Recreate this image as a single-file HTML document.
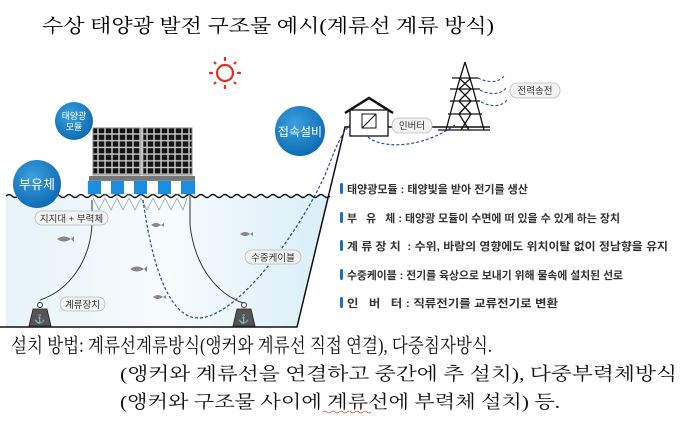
<!DOCTYPE html>
<html><head><meta charset="utf-8"><style>
html,body{margin:0;padding:0;background:#fff;width:680px;height:421px;overflow:hidden}
svg{display:block}
.s{font-family:"Liberation Serif","Noto Serif CJK SC",serif}
.g{font-family:"Liberation Sans","Noto Sans CJK KR",sans-serif}
</style></head><body>
<svg width="680" height="421" viewBox="0 0 680 421" xmlns="http://www.w3.org/2000/svg">
<defs>
<linearGradient id="w" x1="0" x2="1" y1="0" y2="0">
<stop offset="0" stop-color="#e6f3f9"/><stop offset="0.5" stop-color="#f7fbfd"/><stop offset="1" stop-color="#d8eef7"/>
</linearGradient>
<radialGradient id="b" cx="0.4" cy="0.35" r="0.7"><stop offset="0" stop-color="#3aa0e0"/><stop offset="1" stop-color="#0c68b0"/></radialGradient>
<pattern id="cell" width="7" height="6.7" patternUnits="userSpaceOnUse"><rect width="7" height="6.7" fill="#ccc"/><rect x="0.7" y="0.7" width="5.6" height="5.3" fill="#151515"/></pattern>
</defs>
<text class="s" x="42" y="32" font-size="19" textLength="452" lengthAdjust="spacingAndGlyphs">수상 태양광 발전 구조물 예시(계류선 계류 방식)</text>
<g stroke="#e03020" stroke-width="2.2" fill="none">
<circle cx="225" cy="73" r="8"/>
<line x1="225" y1="57" x2="225" y2="61"/><line x1="225" y1="85" x2="225" y2="89"/>
<line x1="209" y1="73" x2="213" y2="73"/><line x1="237" y1="73" x2="241" y2="73"/>
<line x1="214" y1="62" x2="216" y2="64"/><line x1="234" y1="82" x2="236" y2="84"/>
<line x1="236" y1="62" x2="234" y2="64"/><line x1="214" y1="84" x2="216" y2="82"/>
</g>
<polygon points="6,196 330,196 297,327 6,327" fill="url(#w)"/>
<path d="M6,196 q3,-3 6,0 t6,0 t6,0 t6,0 t6,0 t6,0 t6,0 t6,0 t6,0 t6,0 t6,0 t6,0 t6,0 t6,0 t6,0 t6,0 t6,0 t6,0 t6,0 t6,0 t6,0 t6,0 t6,0 t6,0 t6,0 t6,0 t6,0 t6,0 t6,0 t6,0 t6,0 t6,0 t6,0 t6,0 t6,0 t6,0 t6,0 t6,0 t6,0 t6,0 t6,0 t6,0 t6,0 t6,0 t6,0 t6,0 t6,0 t6,0 t6,0 t6,0 t6,0 t6,0 t6,0 t6,0" stroke="#111" stroke-width="1.3" fill="none"/>
<path d="M0,327 L297,327 L345,127 L490,127" stroke="#111" stroke-width="1.5" fill="none"/>
<rect x="93" y="128" width="48" height="47" fill="url(#cell)" stroke="#888"/>
<rect x="143" y="128" width="49" height="47" fill="url(#cell)" stroke="#888"/>
<rect x="89" y="176" width="106" height="5" fill="#777"/>
<rect x="88" y="181" width="107" height="13" fill="#fff" stroke="#aaa" stroke-width="0.5"/>
<g fill="#1a8ee0"><rect x="88" y="181" width="13" height="13"/><rect x="111" y="181" width="13" height="13"/><rect x="134" y="181" width="13" height="13"/><rect x="158" y="181" width="13" height="13"/><rect x="181" y="181" width="14" height="13"/></g>
<path d="M93,198 l6,12 l6,-12 l6,12 l6,-12 l6,12 l6,-12 l6,12 l6,-12 l6,12 l6,-12 l6,12 l6,-12 l6,12 l6,-12 l6,12 l4,-12" stroke="#8aa" stroke-width="0.8" fill="none"/>
<path d="M92,200 L92,225 C90,260 70,290 40,300" stroke="#333" stroke-width="1" fill="none"/>
<path d="M190,196 L190,225 C195,270 220,295 243,303" stroke="#333" stroke-width="1" fill="none"/>
<path d="M143,200 C150,250 165,320 200,318 C240,315 300,230 325,175 C335,150 340,135 350,125" stroke="#2a4e9e" stroke-width="1.2" stroke-dasharray="3,2" fill="none"/>
<path d="M368,137 C380,148 420,150 455,125" stroke="#2a4e9e" stroke-width="1.2" stroke-dasharray="3,2" fill="none"/>
<g fill="#555" stroke="#222" stroke-width="0.8"><path d="M33,309 h14 l4,17 h-22z"/><path d="M237,309 h14 l4,17 h-22z"/></g>
<circle cx="40" cy="305" r="2.5" fill="none" stroke="#333"/><circle cx="244" cy="305" r="2.5" fill="none" stroke="#333"/>
<text x="40" y="322" font-size="9" fill="#fff" text-anchor="middle">⚓</text><text x="244" y="322" font-size="9" fill="#fff" text-anchor="middle">⚓</text>
<g fill="#888">
<path d="M57,239 q7,-5 14,0 l3,-3 v6 l-3,-3 q-7,5 -14,0z"/>
<path d="M130,269 q7,-5 14,0 l3,-3 v6 l-3,-3 q-7,5 -14,0z"/>
<path d="M151,225 q5,-4 10,0 l3,-2 v4 l-3,-2 q-5,4 -10,0z"/>
<path d="M240,234 q5,-4 10,0 l3,-2 v4 l-3,-2 q-5,4 -10,0z"/>
<path d="M153,297 q5,-4 10,0 l3,-2 v4 l-3,-2 q-5,4 -10,0z"/>
</g>
<circle cx="37" cy="184" r="24" fill="url(#b)"/><text class="g" x="37" y="189" font-size="13" fill="#fff" text-anchor="middle">부유체</text>
<circle cx="74" cy="121" r="19" fill="url(#b)"/><text class="g" x="74" y="119" font-size="9" fill="#fff" text-anchor="middle">태양광</text><text class="g" x="74" y="130" font-size="9" fill="#fff" text-anchor="middle">모듈</text>
<circle cx="300" cy="131" r="25" fill="url(#b)"/><text class="g" x="300" y="136" font-size="12" fill="#fff" text-anchor="middle">접속설비</text>
<g fill="#f2f2f2" stroke="#bbb" stroke-width="0.8">
<rect x="35" y="211" width="73" height="14" rx="7"/><rect x="60" y="297" width="45" height="14" rx="7"/><rect x="245" y="250" width="56" height="14" rx="7"/><rect x="392" y="118" width="40" height="15" rx="7"/><rect x="510" y="83" width="50" height="15" rx="7"/>
</g>
<g class="g" font-size="9.5" fill="#333" text-anchor="middle">
<text x="71.5" y="222">지지대 + 부력체</text><text x="82.5" y="308">계류장치</text><text x="273" y="261">수중케이블</text><text x="412" y="129">인버터</text><text x="535" y="94">전력송전</text>
</g>
<path d="M345,113 L369,98 L393,113" stroke="#111" stroke-width="2.5" fill="none"/>
<rect x="350" y="110" width="38" height="26" fill="#fff" stroke="#111" stroke-width="1.3"/>
<rect x="362" y="114" width="14" height="14" fill="none" stroke="#111"/><path d="M362,128 L376,114" stroke="#111"/>
<g stroke="#111" stroke-width="1.3" fill="none">
<path d="M465,62 L458,85 L446,130 M465,62 L472,85 L484,130"/>
<path d="M452,78 h26 M450,89 h30 M450,101 h30 M448,114 h34"/>
<path d="M459,78 l12,11 l-12,12 l12,13 l-10,16 M471,78 l-12,11 l12,12 l-12,13 l10,16"/>
<path d="M438,130 h52"/>
</g>
<g stroke="#2a4e9e" stroke-width="1.1" stroke-dasharray="3,2" fill="none">
<path d="M478,78 C490,84 500,82 505,75"/><path d="M480,90 C492,96 502,94 507,87"/><path d="M481,102 C493,108 503,106 508,99"/>
</g>
<g class="g" font-size="11" font-weight="bold" fill="#333">
<text x="347" y="193">태양광모듈 : 태양빛을 받아 전기를 생산</text>
<text x="347" y="222" textLength="273" lengthAdjust="spacingAndGlyphs">부&#160;&#160;&#160;유&#160;&#160;&#160;체 : 태양광 모듈이 수면에 떠 있을 수 있게 하는 장치</text>
<text x="347" y="250" textLength="321" lengthAdjust="spacingAndGlyphs">계 류 장 치 &#160;: 수위, 바람의 영향에도 위치이탈 없이 정남향을 유지</text>
<text x="347" y="279" textLength="276" lengthAdjust="spacingAndGlyphs">수중케이블 : 전기를 육상으로 보내기 위해 물속에 설치된 선로</text>
<text x="347" y="307" textLength="211" lengthAdjust="spacingAndGlyphs">인&#160;&#160;&#160;버&#160;&#160;&#160;터 : 직류전기를 교류전기로 변환</text>
</g>
<g fill="#1a6fc0"><rect x="340" y="183" width="3" height="11" rx="1.5"/><rect x="340" y="212" width="3" height="11" rx="1.5"/><rect x="340" y="240" width="3" height="11" rx="1.5"/><rect x="340" y="269" width="3" height="11" rx="1.5"/><rect x="340" y="297" width="3" height="11" rx="1.5"/></g>
<g class="s" font-size="18" fill="#111">
<text x="11" y="352" font-size="19.5" textLength="481" lengthAdjust="spacingAndGlyphs">설치 방법: 계류선계류방식(앵커와 계류선 직접 연결), 다중침자방식.</text>
<text x="120" y="380" textLength="557" lengthAdjust="spacingAndGlyphs">(앵커와 계류선을 연결하고 중간에 추 설치), 다중부력체방식</text>
<text x="120" y="408" textLength="440" lengthAdjust="spacingAndGlyphs">(앵커와 구조물 사이에 계류선에 부력체 설치) 등.</text>
</g>
<path d="M323,412 q2,-2 4,0 t4,0 t4,0 t4,0 t4,0 t4,0 t4,0 t4,0 t4,0 t4,0 t4,0 t4,0" stroke="#d44" stroke-width="0.7" fill="none"/>
</svg>
</body></html>
